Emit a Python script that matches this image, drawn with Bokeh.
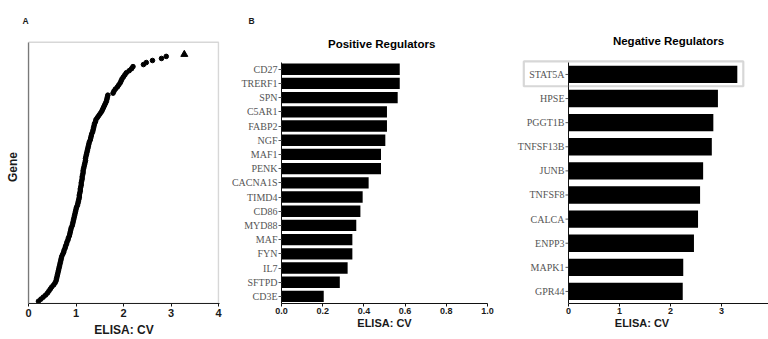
from bokeh.plotting import figure
from bokeh.layouts import row
from bokeh.models import Range1d, FixedTicker, Label, PolyAnnotation
from bokeh.core.properties import value
from bokeh.embed import file_html
from bokeh.resources import INLINE

# ---------------- Panel A: all genes, sorted ELISA CV ----------------
gene_cv = [
    0.21, 0.26, 0.31, 0.36, 0.40, 0.43, 0.46, 0.49, 0.53, 0.56,
    0.58, 0.59, 0.60, 0.61, 0.62, 0.63, 0.64, 0.65, 0.66, 0.67,
    0.68, 0.69, 0.70, 0.72, 0.74, 0.75, 0.77, 0.78, 0.80, 0.81,
    0.83, 0.84, 0.86, 0.87, 0.88, 0.89, 0.90, 0.92, 0.93, 0.94,
    0.95, 0.96, 0.97, 0.98, 0.99, 1.00, 1.01, 1.03, 1.04, 1.05,
    1.06, 1.07, 1.07, 1.08, 1.09, 1.09, 1.10, 1.11, 1.11, 1.12,
    1.13, 1.13, 1.14, 1.15, 1.15, 1.16, 1.17, 1.18, 1.19, 1.20,
    1.20, 1.21, 1.22, 1.23, 1.24, 1.25, 1.26, 1.27, 1.28, 1.30,
    1.31, 1.32, 1.33, 1.35, 1.36, 1.37, 1.38, 1.39, 1.41, 1.42,
    1.45, 1.48, 1.51, 1.54, 1.56, 1.58, 1.60, 1.62, 1.64, 1.65,
    1.66, 1.67, 1.78, 1.80, 1.83, 1.87, 1.90, 1.93, 1.95, 1.97,
    2.00, 2.03, 2.06, 2.12, 2.17, 2.20, 2.42, 2.48, 2.61, 2.80, 2.90,
]
gene_rank = list(range(len(gene_cv)))
outlier_cv = [3.28]
outlier_rank = [len(gene_cv)]
a_ticks = [0, 1, 2, 3, 4]

# ---------------- Panel B: positive regulators ----------------
pos_genes = ["CD27", "TRERF1", "SPN", "C5AR1", "FABP2", "NGF", "MAF1", "PENK",
             "CACNA1S", "TIMD4", "CD86", "MYD88", "MAF", "FYN", "IL7", "SFTPD", "CD3E"]
pos_cv = [0.574, 0.574, 0.564, 0.512, 0.512, 0.504, 0.483, 0.483,
          0.423, 0.394, 0.383, 0.363, 0.344, 0.344, 0.321, 0.283, 0.205]
b_ticks = [0.0, 0.2, 0.4, 0.6, 0.8, 1.0]

# ---------------- Panel C: negative regulators ----------------
neg_genes = ["STAT5A", "HPSE", "PGGT1B", "TNFSF13B", "JUNB", "TNFSF8",
             "CALCA", "ENPP3", "MAPK1", "GPR44"]
neg_cv = [3.31, 2.93, 2.84, 2.81, 2.64, 2.58, 2.54, 2.46, 2.25, 2.24]
c_ticks = [0, 1, 2, 3]
highlight = "STAT5A"

SANS = "Liberation Sans"
SERIF = "Liberation Serif"
INK = "#1a1a1a"
BOX_GRAY = "#7a7a7a"
LABEL_GRAY = "#555555"
H = 339
TOP = 30
BOTTOM = 35


def style_x(p, ticks, fs, lfs, fmt=None, label_standoff=1, axis_standoff=0):
    ax = p.xaxis[0]
    ax.ticker = FixedTicker(ticks=ticks)
    ax.minor_tick_line_color = None
    ax.major_tick_in = 0
    ax.major_tick_out = 3
    ax.major_label_standoff = label_standoff
    ax.major_label_text_font = SANS
    ax.major_label_text_font_style = "bold"
    ax.major_label_text_font_size = fs
    ax.major_label_text_color = INK
    ax.axis_line_color = "#111111"
    ax.major_tick_line_color = "#111111"
    ax.axis_label = "ELISA: CV"
    ax.axis_label_standoff = axis_standoff
    ax.axis_label_text_font = SANS
    ax.axis_label_text_font_style = "bold"
    ax.axis_label_text_font_size = lfs
    ax.axis_label_text_color = INK
    if fmt is not None:
        ax.major_label_overrides = fmt


def panel_title(p, text, offset):
    p.title.text = text
    p.title.align = "left"
    p.title.offset = offset
    p.title.text_font = SANS
    p.title.text_font_style = "bold"
    p.title.text_font_size = "8.5px"
    p.title.text_color = INK


# ================= Panel A =================
a_xpx = 47.5                         # pixels per CV unit
rank_px = 2.047                      # pixels per gene rank
y_lo = -2.3 / rank_px
y_box = (len(gene_cv) - 1) + 14.3 / rank_px
y_hi = (len(gene_cv) - 1) + 26.0 / rank_px
pa = figure(width=228, height=H, x_range=Range1d(0, 4 + 1.0 / a_xpx), y_range=Range1d(y_lo, y_hi),
            output_backend="svg", toolbar_location=None,
            min_border_left=28, min_border_right=9, min_border_top=TOP, min_border_bottom=BOTTOM)
pa.grid.visible = False
pa.outline_line_color = None
pa.add_layout(PolyAnnotation(xs=[0, 4, 4, 0], ys=[y_lo, y_lo, y_box, y_box],
                             fill_alpha=0, line_color=BOX_GRAY, line_width=1.5))
pa.scatter(gene_cv, gene_rank, marker="circle", size=4.6, color="black")
pa.scatter(outlier_cv, outlier_rank, marker="triangle", size=7, color="black")
style_x(pa, a_ticks, "11px", "12px", label_standoff=2, axis_standoff=3)
ya = pa.yaxis[0]
ya.ticker = FixedTicker(ticks=[])
ya.bounds = (y_lo, y_box)
ya.major_tick_out = 0
ya.major_tick_in = 0
ya.minor_tick_line_color = None
ya.major_label_standoff = 0
ya.axis_line_color = BOX_GRAY
ya.axis_line_width = 1.3
ya.axis_label = "Gene"
ya.axis_label_standoff = 9
ya.axis_label_text_font = SANS
ya.axis_label_text_font_style = "bold"
ya.axis_label_text_font_size = "12px"
ya.axis_label_text_color = INK
panel_title(pa, "A", -6)

# ================= Panel B =================
nb = len(pos_genes)
b_pos = [nb - 1 - i for i in range(nb)]
b_px = 14.25
b_hi = (nb - 0.5) + 31.75 / b_px
pb = figure(width=272, height=H, x_range=Range1d(0, 1.0), y_range=Range1d(-0.5, b_hi),
            output_backend="svg", toolbar_location=None,
            min_border_left=53, min_border_right=13, min_border_top=TOP, min_border_bottom=BOTTOM)
pb.grid.visible = False
pb.outline_line_color = None
pb.hbar(y=b_pos, right=pos_cv, left=0, height=0.8, fill_color="black", line_color=None)
style_x(pb, b_ticks, "9px", "11px", fmt={t: f"{t:.1f}" for t in b_ticks})
yb = pb.yaxis[0]
yb.ticker = FixedTicker(ticks=b_pos)
yb.major_label_overrides = {y: g for y, g in zip(b_pos, pos_genes)}
yb.bounds = (-0.5, nb - 0.5)
yb.minor_tick_line_color = None
yb.major_tick_out = 3
yb.major_tick_in = 0
yb.major_label_standoff = 1
yb.major_label_text_font = SERIF
yb.major_label_text_font_size = "10px"
yb.major_label_text_color = LABEL_GRAY
yb.axis_line_color = "#111111"
yb.major_tick_line_color = LABEL_GRAY
panel_title(pb, "B", -33)
pb.add_layout(Label(x=0.494, y=(nb - 0.5) + 18.2 / b_px, text="Positive  Regulators",
                    text_font=SANS, text_font_style="bold", text_font_size="11.5px",
                    text_align="center", text_baseline="middle", text_color="black"))

# ================= Panel C =================
nc = len(neg_genes)
c_pos = [nc - 1 - i for i in range(nc)]
c_xpx = 51.0
c_ypx = 24.2
c_x_lo = -53.0 / c_xpx
c_x_hi = 200.0 / c_xpx
c_hi = (nc - 0.5) + 32.0 / c_ypx
pc = figure(width=268, height=H, x_range=Range1d(c_x_lo, c_x_hi), y_range=Range1d(-0.5, c_hi),
            output_backend="svg", toolbar_location=None,
            min_border_left=15, min_border_right=0, min_border_top=TOP, min_border_bottom=BOTTOM)
pc.grid.visible = False
pc.outline_line_color = None
# category tick marks (left of the axis line; right half hidden by the bars)
pc.scatter(x=[0] * nc, y=c_pos, marker="dash", size=6, line_color=LABEL_GRAY, line_width=1)
pc.hbar(y=c_pos, right=neg_cv, left=0, height=0.72, fill_color="black", line_color=None)
style_x(pc, c_ticks, "9px", "11px")
pc.xaxis[0].bounds = (0, c_x_hi)
yc = pc.yaxis[0]
yc.fixed_location = 0
yc.ticker = FixedTicker(ticks=[])
yc.bounds = (-0.5, nc - 0.5)
yc.minor_tick_line_color = None
yc.major_tick_out = 0
yc.major_tick_in = 0
yc.major_label_standoff = 0
yc.axis_line_color = "#111111"
pc.text(x=[0] * nc, y=c_pos, text=neg_genes, x_offset=-4, text_align="right",
        text_baseline="middle", text_font=value(SERIF), text_font_size="10px",
        text_color=LABEL_GRAY)
pc.add_layout(Label(x=100.0 / c_xpx, y=(nc - 0.5) + 21.5 / c_ypx, text="Negative Regulators",
                    text_font=SANS, text_font_style="bold", text_font_size="11.5px",
                    text_align="center", text_baseline="middle", text_color="black"))
hi_y = c_pos[neg_genes.index(highlight)]
hi_v = neg_cv[neg_genes.index(highlight)]
bx0 = -44.7 / c_xpx
bx1 = hi_v + 6.0 / c_xpx
by0 = hi_y - 0.49
by1 = hi_y + 0.54
pc.add_layout(PolyAnnotation(xs=[bx0, bx1, bx1, bx0], ys=[by0, by0, by1, by1],
                             fill_alpha=0, line_color=BOX_GRAY, line_width=2.2))

layout = row(pa, pb, pc)
open("out.html", "w").write(file_html(layout, INLINE))
